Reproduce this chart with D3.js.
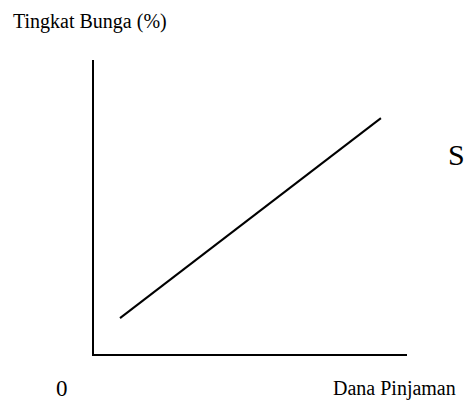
<!DOCTYPE html>
<html>
<head>
<meta charset="utf-8">
<script src="https://cdn.jsdelivr.net/npm/d3@7"></script>
<style>
  body { margin: 0; background: #fff; }
  text { font-family: "Liberation Serif", "Times New Roman", serif; fill: #000; }
</style>
</head>
<body>
<svg id="chart" width="465" height="401"></svg>
<script>
// --- data ---
let supplyX = [0.86, 9.17]
let supplyY = [1.25, 8.03]
let yLabel = "Tingkat Bunga (%)"
let xLabel = "Dana Pinjaman"
let originLabel = "0"
let curveLabel = "S"

let svg = d3.select("#chart")

let x = d3.scaleLinear().domain([0, 10]).range([93, 407])
let y = d3.scaleLinear().domain([0, 10]).range([355, 60])

// axes (plain lines, no ticks)
svg.append("line")
    .attr("x1", x(0)).attr("y1", y(0))
    .attr("x2", x(0)).attr("y2", y(10))
    .attr("stroke", "#000").attr("stroke-width", 2)

svg.append("line")
    .attr("x1", x(0) - 1).attr("y1", y(0))
    .attr("x2", x(10)).attr("y2", y(0))
    .attr("stroke", "#000").attr("stroke-width", 2)

// supply curve
let pts = supplyX.map((d, i) => [d, supplyY[i]])
svg.append("path")
    .datum(pts)
    .attr("fill", "none")
    .attr("stroke", "#000")
    .attr("stroke-width", 2)
    .attr("d", d3.line().x(d => x(d[0])).y(d => y(d[1])))

// labels
svg.append("text").attr("x", 13).attr("y", 28).attr("font-size", 20).text(yLabel)
svg.append("text").attr("x", 56).attr("y", 396).attr("font-size", 23).text(originLabel)
svg.append("text").attr("x", 333).attr("y", 395).attr("font-size", 20).text(xLabel)
svg.append("text").attr("x", 448).attr("y", 165).attr("font-size", 30).text(curveLabel)
</script>
</body>
</html>
